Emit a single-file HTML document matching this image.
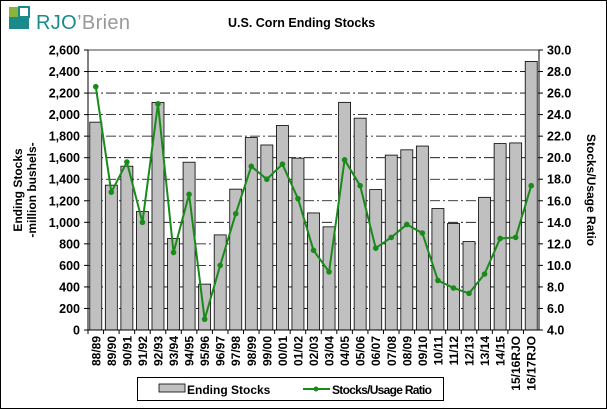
<!DOCTYPE html>
<html><head><meta charset="utf-8"><style>
html,body{margin:0;padding:0;background:#fff}
svg{display:block;font-family:"Liberation Sans",Arial,sans-serif}
</style></head><body>
<svg id="c" width="607" height="409" xmlns="http://www.w3.org/2000/svg">
<rect x="0.5" y="0.5" width="606" height="408" fill="#fff" stroke="#000"/>
<rect x="9" y="7" width="10" height="10" fill="#8ab53a"/>
<rect x="9" y="17" width="20" height="12" fill="#1a8a8a"/>
<rect x="19" y="7" width="10" height="10" fill="#fff" stroke="#1a8a8a" stroke-width="2"/>
<text x="36" y="29" font-size="20" fill="#1a8a8a" textLength="94">RJO<tspan fill="#999">’Brien</tspan></text>
<text x="228" y="27" font-size="12.5" font-weight="bold">U.S. Corn Ending Stocks</text>
<g id="g"></g>
<text transform="translate(22,190) rotate(-90)" text-anchor="middle" font-size="12" font-weight="bold">Ending Stocks</text>
<text transform="translate(36,190) rotate(-90)" text-anchor="middle" font-size="12" font-weight="bold">-million bushels-</text>
<text transform="translate(587,190) rotate(90)" text-anchor="middle" font-size="12" font-weight="bold">Stocks/Usage Ratio</text>
<rect x="137.5" y="377.5" width="306" height="23" fill="#fff" stroke="#000"/>
<rect x="159" y="384" width="26" height="8" fill="#c0c0c0" stroke="#000" stroke-width="0.8"/>
<text x="187" y="394" font-size="12" font-weight="bold">Ending Stocks</text>
<line x1="303" y1="389" x2="330" y2="389" stroke="#1a8a1a" stroke-width="2"/>
<circle cx="316" cy="389" r="2.5" fill="#1a8a1a"/>
<text x="332" y="394" font-size="12" font-weight="bold" textLength="100">Stocks/Usage Ratio</text>
</svg>
<script>
var L=88,R=539,T=50,B=330;
var cats=["88/89","89/90","90/91","91/92","92/93","93/94","94/95","95/96","96/97","97/98","98/99","99/00","00/01","01/02","02/03","03/04","04/05","05/06","06/07","07/08","08/09","09/10","10/11","11/12","12/13","13/14","14/15","15/16RJO","16/17RJO"];
var bars=[1930,1345,1521,1100,2113,850,1558,426,883,1308,1787,1718,1899,1596,1087,958,2114,1967,1304,1624,1673,1708,1128,989,821,1232,1731,1737,2494];
var rat=[26.6,16.8,19.6,14.0,25.0,11.2,16.6,5.0,10.0,14.8,19.2,18.0,19.4,16.2,11.4,9.4,19.8,17.4,11.6,12.6,13.8,13.0,8.6,7.9,7.4,9.2,12.5,12.6,17.4];
var s="",n=cats.length,w=(R-L)/n;
function y1(v){return B-v/2600*(B-T)}
function y2(v){return B-(v-4)/26*(B-T)}
for(var i=1;i<13;i++){var y=B-i*(B-T)/13;s+='<line x1="'+L+'" x2="'+R+'" y1="'+y+'" y2="'+y+'" stroke="#000" stroke-width="0.8" stroke-dasharray="10,3,2,3"/>';}
for(var i=0;i<=13;i++){var y=B-i*(B-T)/13;
s+='<line x1="'+(L-4)+'" x2="'+L+'" y1="'+y+'" y2="'+y+'" stroke="#000"/>';
s+='<line x1="'+R+'" x2="'+(R+4)+'" y1="'+y+'" y2="'+y+'" stroke="#000"/>';
s+='<text x="'+(L-8)+'" y="'+(y+4.5)+'" text-anchor="end" font-size="12.5" font-weight="bold">'+(i*200).toLocaleString('en-US')+'</text>';
s+='<text x="'+(R+8)+'" y="'+(y+4.5)+'" font-size="12.5" font-weight="bold">'+(4+i*2).toFixed(1)+'</text>';}
var pts=[];
for(var i=0;i<n;i++){var cx=L+w*(i+0.5),y=y1(bars[i]);
s+='<rect x="'+(cx-6)+'" y="'+y+'" width="12" height="'+(B-y)+'" fill="#c0c0c0" stroke="#000" stroke-width="0.8"/>';
pts.push(cx+','+y2(rat[i]));
s+='<line x1="'+(L+w*i)+'" x2="'+(L+w*i)+'" y1="'+B+'" y2="'+(B+4)+'" stroke="#000"/>';
s+='<text transform="translate('+(cx+4.5)+','+(B+6)+') rotate(-90)" text-anchor="end" font-size="12" font-weight="bold">'+cats[i]+'</text>';}
s+='<polyline points="'+pts.join(' ')+'" fill="none" stroke="#1a8a1a" stroke-width="2"/>';
pts.forEach(function(p){var a=p.split(',');s+='<circle cx="'+a[0]+'" cy="'+a[1]+'" r="2.8" fill="#1a8a1a"/>';});
s+='<line x1="'+L+'" x2="'+L+'" y1="'+T+'" y2="'+B+'" stroke="#000"/><line x1="'+R+'" x2="'+R+'" y1="'+T+'" y2="'+B+'" stroke="#000"/><line x1="'+L+'" x2="'+R+'" y1="'+B+'" y2="'+B+'" stroke="#000"/><line x1="'+L+'" x2="'+R+'" y1="'+T+'" y2="'+T+'" stroke="#000" stroke-width="0.8"/>';
document.getElementById('g').innerHTML=s;
</script>
</body></html>
